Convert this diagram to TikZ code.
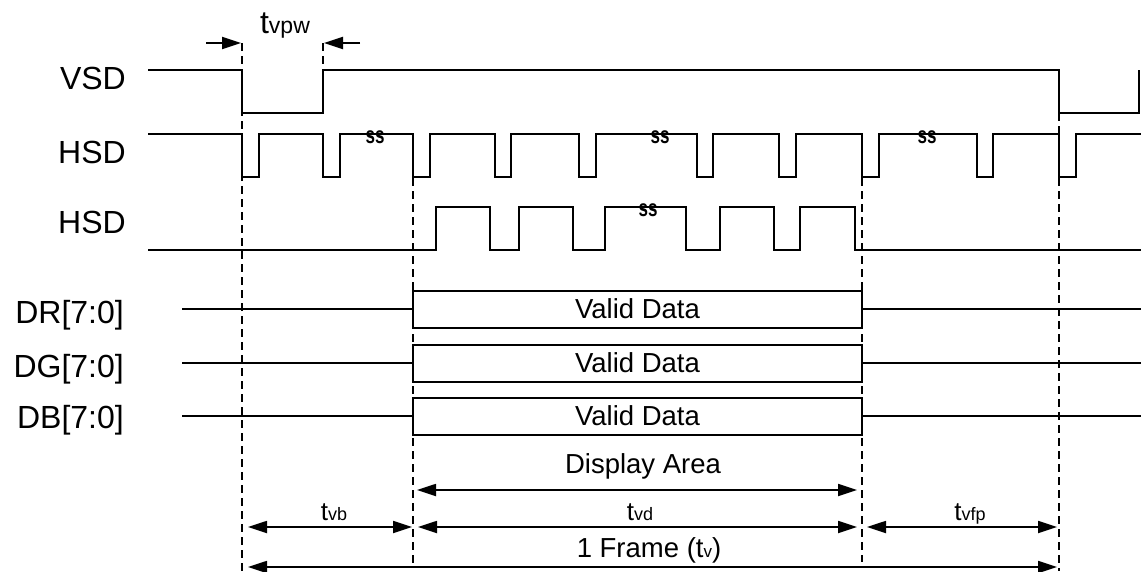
\documentclass[tikz,border=0pt]{standalone}
\usepackage{fontspec}
\setmainfont{Liberation Sans}
\usetikzlibrary{arrows.meta}
\newcommand\tlab[3]{{\fontsize{#1}{#1}\selectfont t}{\fontsize{#2}{#2}\selectfont #3}}
\begin{document}
\begin{tikzpicture}[x=1pt,y=-1pt,
  wave/.style={line width=2pt, line join=miter},
  guide/.style={line width=1.6pt, dash pattern=on 8pt off 5pt},
  dimarrow/.style={line width=1.8pt, {Triangle[length=19pt,width=12pt]}-{Triangle[length=19pt,width=12pt]}},
  onearrow/.style={line width=1.8pt, -{Triangle[length=19pt,width=12pt]}},
  sig/.style={font=\fontsize{32}{32}\selectfont, anchor=base east, inner sep=0pt},
  lbl/.style={font=\fontsize{27.5}{28}\selectfont, inner sep=0pt},
  brk/.style={font=\fontsize{17}{17}\selectfont\bfseries, inner sep=0pt},
  databox/.style={draw, line width=2pt, minimum width=449pt, minimum height=37pt, inner sep=0pt, font=\fontsize{27.5}{28}\selectfont}
]
\useasboundingbox (0,0) rectangle (1141,571);

% signal names
\node[sig] (vsd) at (126,89) {VSD};
\node[sig] (hsd1) at (126,163) {HSD};
\node[sig] (hsd2) at (126,233) {HSD};
\node[sig] (dr) at (124,323) {DR[7:0]};
\node[sig] (dg) at (124,377) {DG[7:0]};
\node[sig] (db) at (124,428) {DB[7:0]};

% guide lines
\coordinate (g1t) at (242,43);  \coordinate (g1b) at (242,571);
\coordinate (g2t) at (323,43);  \coordinate (g2b) at (323,70);
\coordinate (g3t) at (413,178); \coordinate (g3b) at (413,567);
\coordinate (g4t) at (862,178); \coordinate (g4b) at (862,562);
\coordinate (g5t) at (1059,113); \coordinate (g5b) at (1059,571);
\draw[guide] (g1t) -- (g1b);
\draw[guide] (g2t) -- (g2b);
\draw[guide] (g3t) -- (g3b);
\draw[guide] (g4t) -- (g4b);
\draw[guide] (g5t) -- (g5b);

% VSD
\draw[wave] (148,70) -- (242,70) -- (242,113) -- (323,113) -- (323,70) -- (1059,70) -- (1059,113) -- (1139,113) -- (1139,70);

% HSD 1
\draw[wave] (148,134)
  \foreach \a/\b in {242/259,323/340,413/430,495/511,579/596,697/713,779/796,862/879,977/993,1059/1076}{
    -- (\a,134) -- (\a,177) -- (\b,177) -- (\b,134)}
  -- (1141,134);

% HSD 2
\draw[wave] (148,250)
  \foreach \a/\b in {436/490,519/573,605/686,720/774,800/855}{
    -- (\a,250) -- (\a,207) -- (\b,207) -- (\b,250)}
  -- (1141,250);

% break marks
\node[brk] (s1) at (375,137) {\scalebox{1}[1.4]{ss}};
\node[brk] (s2) at (660,137) {\scalebox{1}[1.4]{ss}};
\node[brk] (s3) at (927,137) {\scalebox{1}[1.4]{ss}};
\node[brk] (s4) at (648,210) {\scalebox{1}[1.4]{ss}};

% data rows
\node[databox] (vdr) at (637.5,309) {Valid Data};
\node[databox] (vdg) at (637.5,363) {Valid Data};
\node[databox] (vdb) at (637.5,416) {Valid Data};
\coordinate (drl) at (182,309); \coordinate (drr) at (1141,309);
\coordinate (dgl) at (182,363); \coordinate (dgr) at (1141,363);
\coordinate (dbl) at (182,416); \coordinate (dbr) at (1141,416);
\draw[wave] (drl) -- (vdr.west);
\draw[wave] (vdr.east) -- (drr);
\draw[wave] (dgl) -- (vdg.west);
\draw[wave] (vdg.east) -- (dgr);
\draw[wave] (dbl) -- (vdb.west);
\draw[wave] (vdb.east) -- (dbr);

% t_vpw
\coordinate (pwl0) at (206,43); \coordinate (pwl1) at (241,43);
\coordinate (pwr0) at (360,43); \coordinate (pwr1) at (324,43);
\draw[onearrow] (pwl0) -- (pwl1);
\draw[onearrow] (pwr0) -- (pwr1);
\node[inner sep=0pt, anchor=base] (tvpw) at (285,33) {\tlab{32}{23}{vpw}};

% Display area
\coordinate (da1) at (417,490); \coordinate (da2) at (857,490);
\draw[dimarrow] (da1) -- (da2);
\node[lbl, anchor=base] (dalab) at (643,473) {Display Area};

% t_vb, t_vd, t_vfp
\coordinate (vb1) at (248,527); \coordinate (vb2) at (412,527);
\coordinate (vd1) at (418,527); \coordinate (vd2) at (857,527);
\coordinate (fp1) at (867,527); \coordinate (fp2) at (1057,527);
\draw[dimarrow] (vb1) -- (vb2);
\draw[dimarrow] (vd1) -- (vd2);
\draw[dimarrow] (fp1) -- (fp2);
\node[inner sep=0pt, anchor=base] (tvb) at (334,520) {\tlab{26}{18}{vb}};
\node[inner sep=0pt, anchor=base] (tvd) at (640,520) {\tlab{26}{18}{vd}};
\node[inner sep=0pt, anchor=base] (tvfp) at (970,520) {\tlab{26}{18}{vfp}};

% 1 frame
\coordinate (fr1) at (248,567); \coordinate (fr2) at (1057,567);
\draw[dimarrow] (fr1) -- (fr2);
\node[lbl, anchor=base] (frlab) at (649,557) {1 Frame (t{\fontsize{17}{17}\selectfont v})};
\end{tikzpicture}
\end{document}
